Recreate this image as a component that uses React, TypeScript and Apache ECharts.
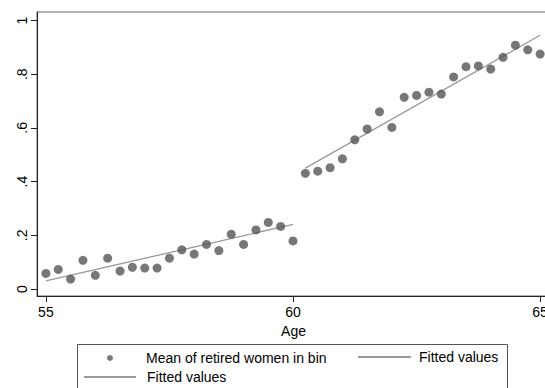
import React, { useEffect, useRef } from "react";
import * as echarts from "echarts";

const leftAges = [55, 55.25, 55.5, 55.75, 56, 56.25, 56.5, 56.75, 57, 57.25, 57.5, 57.75, 58, 58.25, 58.5, 58.75, 59, 59.25, 59.5, 59.75, 60];
const leftMeans = [0.058, 0.073, 0.037, 0.107, 0.051, 0.115, 0.067, 0.081, 0.078, 0.078, 0.115, 0.146, 0.13, 0.166, 0.143, 0.204, 0.166, 0.22, 0.248, 0.233, 0.179];
const rightAges = [60.25, 60.5, 60.75, 61, 61.25, 61.5, 61.75, 62, 62.25, 62.5, 62.75, 63, 63.25, 63.5, 63.75, 64, 64.25, 64.5, 64.75, 65];
const rightMeans = [0.431, 0.439, 0.452, 0.485, 0.556, 0.596, 0.66, 0.602, 0.714, 0.721, 0.733, 0.726, 0.79, 0.828, 0.831, 0.819, 0.863, 0.908, 0.891, 0.875];
const fitLeftAges = [55, 60];
const fitLeftValues = [0.03, 0.241];
const fitRightAges = [60.25, 65];
const fitRightValues = [0.45, 0.945];
const xTicks = [55, 60, 65];
const yTicks = [0, 0.2, 0.4, 0.6, 0.8, 1];
const yTickLabels = ["0", ".2", ".4", ".6", ".8", "1"];

const FONT = "'Liberation Sans', Arial, sans-serif";

export default function App() {
  const ref = useRef<HTMLDivElement>(null);
  useEffect(() => {
    document.body.style.margin = "0";
    if (!ref.current) return;
    const chart = echarts.init(ref.current, undefined, { renderer: "svg" });
    const points = [
      ...leftAges.map((a, i) => [a, leftMeans[i]]),
      ...rightAges.map((a, i) => [a, rightMeans[i]]),
    ];
    const textBase = { fontSize: 14, color: "#000", fontFamily: FONT };
    const yFmt = (v: number) => {
      const idx = yTicks.findIndex((t) => Math.abs(t - v) < 1e-6);
      return idx >= 0 ? yTickLabels[idx] : "";
    };
    chart.setOption({
      animation: false,
      textStyle: { fontFamily: FONT },
      grid: {
        left: 37,
        top: 12,
        width: 513,
        height: 284,
        show: true,
        borderColor: "#666",
        borderWidth: 1,
        containLabel: false,
        outerBoundsMode: "none",
      },
      xAxis: {
        type: "value",
        min: 54.82,
        max: 65.2,
        name: "Age",
        nameLocation: "middle",
        nameGap: 24,
        nameTextStyle: textBase,
        axisLine: { show: true, onZero: false, lineStyle: { color: "#222", width: 1 } },
        axisTick: { show: true, length: 6, customValues: xTicks, lineStyle: { color: "#222" } },
        axisLabel: { customValues: xTicks, ...textBase, margin: 9 },
        splitLine: { show: false },
      },
      yAxis: {
        type: "value",
        min: -0.026,
        max: 1.0317,
        position: "left",
        axisLine: { show: true, onZero: false, lineStyle: { color: "#222", width: 1 } },
        axisTick: { show: true, length: 6, customValues: yTicks, lineStyle: { color: "#222" } },
        axisLabel: {
          customValues: yTicks,
          rotate: 90,
          ...textBase,
          margin: 8,
          formatter: yFmt,
        },
        splitLine: { show: false },
      },
      legend: [
        {
          orient: "horizontal",
          padding: 0,
          left: 107,
          top: 351,
          itemWidth: 6,
          itemHeight: 6,
          selectedMode: false,
          textStyle: { ...textBase, padding: [0, 0, 0, 28] },
          data: [{ name: "Mean of retired women in bin", icon: "circle" }],
        },
        {
          orient: "horizontal",
          padding: 0,
          left: 357,
          top: 350,
          itemWidth: 53,
          itemHeight: 2,
          selectedMode: false,
          textStyle: { ...textBase, padding: [0, 0, 0, 3] },
          data: [{ name: "Fitted values", icon: "inherit" }],
        },
        {
          orient: "horizontal",
          padding: 0,
          left: 83,
          top: 370,
          itemWidth: 52,
          itemHeight: 2,
          selectedMode: false,
          textStyle: { ...textBase, padding: [0, 0, 0, 6] },
          data: [{ name: "Fitted values", icon: "inherit" }],
        },
      ],
      graphic: [
        {
          type: "rect",
          shape: { x: 77.5, y: 344.5, width: 430, height: 60 },
          style: { fill: "none", stroke: "#555", lineWidth: 1 },
          z: 0,
        },
      ],
      series: [
        {
          name: "Mean of retired women in bin",
          type: "scatter",
          symbol: "circle",
          symbolSize: 9,
          itemStyle: { color: "#555555" },
          data: points,
          z: 3,
        },
        {
          name: "Fitted values",
          type: "line",
          symbol: "none",
          itemStyle: { color: "#999999" },
          lineStyle: { color: "#999999", width: 1.3 },
          data: fitLeftAges.map((a, i) => [a, fitLeftValues[i]]),
          z: 2,
        },
        {
          name: "Fitted values",
          type: "line",
          symbol: "none",
          itemStyle: { color: "#999999" },
          lineStyle: { color: "#999999", width: 1.3 },
          data: fitRightAges.map((a, i) => [a, fitRightValues[i]]),
          z: 2,
        },
      ],
    });
    return () => chart.dispose();
  }, []);
  return <div ref={ref} style={{ width: 545, height: 388 }} />;
}
